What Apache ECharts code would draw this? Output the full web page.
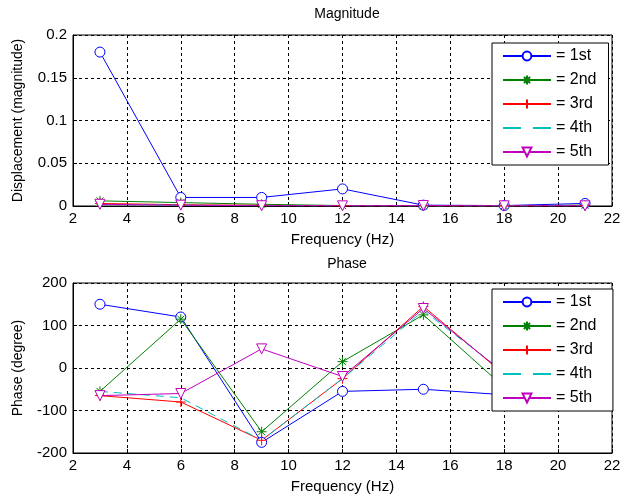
<!DOCTYPE html>
<html>
<head>
<meta charset="utf-8">
<script src="https://cdn.jsdelivr.net/npm/echarts@6/dist/echarts.min.js"></script>
<style>
html,body{margin:0;padding:0;background:#fff;}
#main{width:625px;height:497px;}
</style>
</head>
<body>
<div id="main"></div>
<script>
var freqs = [3, 6, 9, 12, 15, 18, 21];
var modeNames = ['= 1st', '= 2nd', '= 3rd', '= 4th', '= 5th'];

// displacement magnitude per mode
var mag1 = [0.18, 0.01, 0.01, 0.02, 0.001, 0.0005, 0.003];
var mag2 = [0.006, 0.004, 0.002, 0.0005, 0.0003, 0.0002, 0.001];
var mag3 = [0.003, 0.0015, 0.0008, 0.0003, 0.0002, 0.0001, 0.0005];
var mag4 = [0.002, 0.001, 0.0005, 0.0002, 0.0001, 0.0001, 0.0003];
var mag5 = [0.002, 0.001, 0.0003, 0.0002, 0.0005, 0.0002, 0.0002];

// phase (degree) per mode
var ph1 = [150, 120, -175, -55, -50, -63, -70];
var ph2 = [-55, 115, -150, 15, 125, -45, -60];
var ph3 = [-65, -80, -170, -25, 145, -15, -50];
var ph4 = [-55, -70, -170, -25, 135, -10, -55];
var ph5 = [-65, -60, 45, -20, 140, -12, -45];

var magTicks = [0, 0.05, 0.1, 0.15, 0.2];
var phTicks = [-200, -100, 0, 100, 200];
var freqTicks = [2, 4, 6, 8, 10, 12, 14, 16, 18, 20, 22];

var colors = ['#0000ff', '#008000', '#ff0000', '#00bfbf', '#bf00bf'];
var symbols = [
	'circle',
	'path://M5,0 L5,10 M0,5 L10,5 M1.5,1.5 L8.5,8.5 M8.5,1.5 L1.5,8.5',
	'path://M5,0 L5,10 M0,5 L10,5',
	'none',
	'path://M0,0 L10,0 L5,9 Z'
];
var font = 'Liberation Sans, Arial, sans-serif';

function pairs(ys){
	var out = [];
	for(var i=0;i<freqs.length;i++){
		out.push([freqs[i], ys[i]]);
	}
	return out;
}

function makeSeries(data, k, idx, suffix){
	return {
		name: modeNames[k] + suffix,
		type: 'line',
		xAxisIndex: idx,
		yAxisIndex: idx,
		data: pairs(data),
		symbol: symbols[k],
		symbolSize: 10,
		showAllSymbol: true,
		animation: false,
		lineStyle: {color: colors[k], width: 1, type: k==3 ? [8,6] : 'solid'},
		itemStyle: {color: '#fff', borderColor: colors[k], borderWidth: 1}
	};
}

function xAxis(idx){
	return {
		type: 'value', gridIndex: idx, min: freqTicks[0], max: freqTicks[freqTicks.length-1], interval: 2,
		name: 'Frequency (Hz)', nameLocation: 'middle', nameGap: 26,
		nameTextStyle: {fontFamily: font, fontSize: 15, color: '#000'},
		axisLine: {onZero: false, lineStyle: {color: '#000'}},
		axisTick: {inside: true, length: 4, lineStyle: {color: '#000'}},
		axisLabel: {fontFamily: font, fontSize: 15, color: '#000', margin: 5},
		splitLine: {show: true, lineStyle: {color: '#000', type: [3, 3], width: 1}}
	};
}

function yAxis(idx, name, min, max, step){
	return {
		type: 'value', gridIndex: idx, min: min, max: max, interval: step,
		name: name, nameLocation: 'middle', nameGap: 48,
		nameTextStyle: {fontFamily: font, fontSize: 14, color: '#000'},
		axisLine: {show: true, onZero: false, lineStyle: {color: '#000'}},
		axisTick: {show: true, inside: true, length: 4, lineStyle: {color: '#000'}},
		axisLabel: {fontFamily: font, fontSize: 15, color: '#000', margin: 6},
		splitLine: {show: true, lineStyle: {color: '#000', type: [3, 3], width: 1}}
	};
}

function legend(top, suffix){
	return {
		orient: 'vertical', left: 492, top: top,
		data: modeNames.map(function(n, k){
			var item = {name: n + suffix};
			if(symbols[k]=='none'){
				item.itemStyle = {color: 'rgba(0,0,0,0)', borderColor: 'rgba(0,0,0,0)'};
				item.lineStyle = {type: [18, 12]};
			}
			return item;
		}),
		itemWidth: 48, itemHeight: 11, itemGap: 8,
		padding: [5, 12, 5, 10],
		backgroundColor: '#fff', borderColor: '#000', borderWidth: 1, borderRadius: 0,
		textStyle: {fontFamily: font, fontSize: 16, lineHeight: 16, color: '#000'},
		selectedMode: false
	};
}

var series = [];
var mags = [mag1, mag2, mag3, mag4, mag5];
var phs = [ph1, ph2, ph3, ph4, ph5];
for(var k=0;k<5;k++){
	series.push(makeSeries(mags[k], k, 0, ''));
}
for(var k=0;k<5;k++){
	series.push(makeSeries(phs[k], k, 1, ' '));
}

var myChart = echarts.init(document.getElementById('main'), null, {renderer: 'canvas'});
var option = {
	backgroundColor: '#fff',
	animation: false,
	title: [
		{text: 'Magnitude', left: 342, top: 2, textAlign: 'center',
			textStyle: {fontFamily: font, fontSize: 14, fontWeight: 'normal', color: '#000'}},
		{text: 'Phase', left: 342, top: 252, textAlign: 'center',
			textStyle: {fontFamily: font, fontSize: 14, fontWeight: 'normal', color: '#000'}}
	],
	grid: [
		{left: 73, right: 13, top: 35, height: 171, show: true, borderColor: '#000', borderWidth: 1},
		{left: 73, right: 13, top: 283, height: 170, show: true, borderColor: '#000', borderWidth: 1}
	],
	xAxis: [xAxis(0), xAxis(1)],
	yAxis: [
		yAxis(0, 'Displacement (magnitude)', magTicks[0], magTicks[magTicks.length-1], 0.05),
		yAxis(1, 'Phase (degree)', phTicks[0], phTicks[phTicks.length-1], 100)
	],
	legend: [legend(43, ''), legend(289, ' ')],
	series: series
};
myChart.setOption(option);
</script>
</body>
</html>
